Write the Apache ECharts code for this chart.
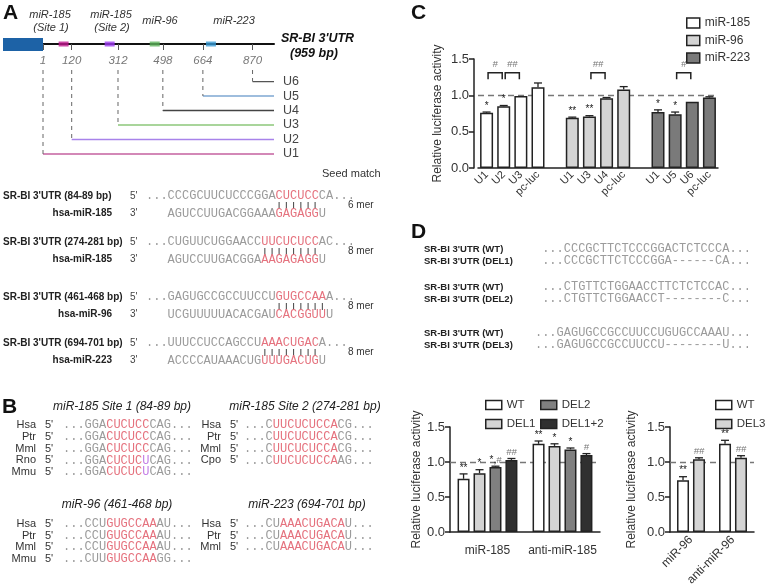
<!DOCTYPE html>
<html><head><meta charset="utf-8">
<script src="https://cdn.jsdelivr.net/npm/echarts@6/dist/echarts.min.js"></script>
<style>html,body{margin:0;padding:0;background:#fff}#c{width:768px;height:588px}</style>
</head><body><div id="c"></div>
<script>
// ================= DATA =================
// Panel A: construct map
const utrLengthBp = 959;
const cutSitesBp = [1, 120, 312, 498, 664, 870];
const constructNames = ['U1', 'U2', 'U3', 'U4', 'U5', 'U6'];
const constructStartBp = [1, 120, 312, 498, 664, 870];
const siteNames = ['miR-185 (Site 1)', 'miR-185 (Site 2)', 'miR-96', 'miR-223'];
const siteCenterBp = [86.5, 277.5, 464.5, 697.5];
const siteLabelLines = [['miR-185', '(Site 1)'], ['miR-185', '(Site 2)'], ['miR-96'], ['miR-223']];

// Panel A: seed matches ([..] = seed, coloured)
const seedUtrLabels = ["SR-BI 3'UTR (84-89 bp)", "SR-BI 3'UTR (274-281 bp)", "SR-BI 3'UTR (461-468 bp)", "SR-BI 3'UTR (694-701 bp)"];
const seedMirLabels = ['hsa-miR-185', 'hsa-miR-185', 'hsa-miR-96', 'hsa-miR-223'];
const seedUtrSeqs = ['...CCCGCUUCUCCCGGA[CUCUCC]CA...', '...CUGUUCUGGAACC[UUCUCUCC]AC...', '...GAGUGCCGCCUUCCU[GUGCCAA]A...', '...UUUCCUCCAGCCU[AAACUGAC]A...'];
const seedMirSeqs = ['AGUCCUUGACGGAAA[GAGAGG]U', 'AGUCCUUGACGGA[AAGAGAGG]U', 'UCGUUUUUACACGAU[CACGGUU]U', 'ACCCCAUAAACUG[UUUGACUG]U'];
const seedMers = ['6 mer', '8 mer', '8 mer', '8 mer'];

// Panel B: conservation ([..] seed, <..> mismatch)
const consTitles = ['miR-185 Site 1 (84-89 bp)', 'miR-185 Site 2 (274-281 bp)', 'miR-96 (461-468 bp)', 'miR-223 (694-701 bp)'];
const consSite1Species = ['Hsa', 'Ptr', 'Mml', 'Rno', 'Mmu'];
const consSite1Seqs = ['...GGA[CUCUCC]CAG...', '...GGA[CUCUCC]CAG...', '...GGA[CUCUCC]CAG...', '...GGA[CUCUC]<U>CAG...', '...GGA[CUCUC]<U>CAG...'];
const consSite2Species = ['Hsa', 'Ptr', 'Mml', 'Cpo'];
const consSite2Seqs = ['...C[UUCUCUCCA]CG...', '...C[UUCUCUCCA]CG...', '...C[UUCUCUCCA]CG...', '...C[UUCUCUCCA]AG...'];
const consMiR96Species = ['Hsa', 'Ptr', 'Mml', 'Mmu'];
const consMiR96Seqs = ['...CCU[GUGCCAA]AU...', '...CCU[GUGCCAA]AU...', '...CCU[GUGCCAA]AU...', '...CUU[GUGCCAA]GG...'];
const consMiR223Species = ['Hsa', 'Ptr', 'Mml'];
const consMiR223Seqs = ['...CU[AAACUGACA]U...', '...CU[AAACUGACA]U...', '...CU[AAACUGACA]U...'];

// Panel C: luciferase assay of deletion constructs
const cCategories = ['U1', 'U2', 'U3', 'pc-luc', '', 'U1', 'U3', 'U4', 'pc-luc', '', 'U1', 'U5', 'U6', 'pc-luc'];
const cSeriesNames = ['miR-185', 'miR-96', 'miR-223'];
const cMiR185 = [0.76, 0.85, 0.99, 1.11];
const cMiR185Err = [0.01, 0.01, 0.005, 0.06];
const cMiR185Sig = ['*', '*', '', ''];
const cMiR96 = [0.69, 0.71, 0.96, 1.08];
const cMiR96Err = [0.01, 0.01, 0.01, 0.04];
const cMiR96Sig = ['**', '**', '', ''];
const cMiR223 = [0.77, 0.74, 0.91, 0.97];
const cMiR223Err = [0.03, 0.03, 0.005, 0.01];
const cMiR223Sig = ['*', '*', '', ''];
const cBracketPairs = [[0, 1], [1, 2], [6, 7], [11, 12]];
const cBracketLabels = ['#', '##', '##', '#'];

// Panel D: deletion sequences
const delLabels = ["SR-BI 3'UTR (WT)", "SR-BI 3'UTR (DEL1)", "SR-BI 3'UTR (WT)", "SR-BI 3'UTR (DEL2)", "SR-BI 3'UTR (WT)", "SR-BI 3'UTR (DEL3)"];
const delSeqs = ['...CCCGCTTCTCCCGGACTCTCCCA...', '...CCCGCTTCTCCCGGA------CA...', '...CTGTTCTGGAACCTTCTCTCCAC...', '...CTGTTCTGGAACCT--------C...', '...GAGUGCCGCCUUCCUGUGCCAAAU...', '...GAGUGCCGCCUUCCU--------U...'];

// Panel D left
const dGroups = ['miR-185', 'anti-miR-185'];
const dSeriesNames = ['WT', 'DEL1', 'DEL2', 'DEL1+2'];
const dWT = [0.76, 1.26], dWTErr = [0.07, 0.04], dWTSig = ['**', '**'];
const dDEL1 = [0.84, 1.23], dDEL1Err = [0.05, 0.03], dDEL1Sig = ['*', '*'];
const dDEL2 = [0.93, 1.18], dDEL2Err = [0.01, 0.02], dDEL2Sig = ['*,#', '*'];
const dDEL12 = [1.03, 1.10], dDEL12Err = [0.02, 0.02], dDEL12Sig = ['##', '#'];

// Panel D right
const eGroups = ['miR-96', 'anti-miR-96'];
const eSeriesNames = ['WT', 'DEL3'];
const eWT = [0.74, 1.26], eWTErr = [0.05, 0.05], eWTSig = ['**', '**'];
const eDEL3 = [1.04, 1.06], eDEL3Err = [0.02, 0.03], eDEL3Sig = ['##', '##'];

// ================= STYLE / HELPERS =================
const SANS = "'Liberation Sans', Arial, Helvetica, sans-serif";
const MONO = "'Liberation Mono', 'DejaVu Sans Mono', monospace";
const CW = 7.2; // mono char width at 12px
const constructColors = ['#c4609f', '#a883ea', '#8cc77a', '#444444', '#7ea7d2', '#555555'];
const siteColors = ['#c0198f', '#9d3cf0', '#5db35a', '#3a9bd5'];
const cColors = ['#ffffff', '#d4d4d4', '#7a7a7a'];
const dColors = ['#ffffff', '#d4d4d4', '#808080', '#303030'];
const eColors = ['#ffffff', '#d4d4d4'];

function T(x, y, text, o) {
  o = o || {};
  const st = Object.assign({
    text: text, fill: '#222', fontFamily: SANS, fontSize: 11,
    textAlign: 'left', textVerticalAlign: 'middle'
  }, o);
  return { type: 'text', x: x, y: y, silent: true, z: 50, style: st };
}
const seqRich = {
  g: { fill: '#9b9b9b', fontFamily: MONO, fontSize: 12 },
  r: { fill: '#e5727e', fontFamily: MONO, fontSize: 12 },
  p: { fill: '#c27be6', fontFamily: MONO, fontSize: 12 }
};
function parseSeq(s) {
  const out = []; const re = /\[([^\]]*)\]|<([^>]*)>|([^\[<]+)/g; let m;
  while ((m = re.exec(s))) {
    if (m[1] !== undefined) out.push(['r', m[1]]);
    else if (m[2] !== undefined) out.push(['p', m[2]]);
    else out.push(['g', m[3]]);
  }
  return out;
}
function richSeq(s) { return parseSeq(s).map(p => '{' + p[0] + '|' + p[1] + '}').join(''); }
function seedIndex(s) { return s.indexOf('['); }
function seedLen(s) { return s.indexOf(']') - s.indexOf('[') - 1; }
function SEQ(x, y, s) { return T(x, y, richSeq(s), { rich: seqRich, fontFamily: MONO, fontSize: 12 }); }

const graphics = [];
// panel letters
graphics.push(T(3, 13, 'A', { fontSize: 21, fontWeight: 'bold', fill: '#111' }));
graphics.push(T(2, 407, 'B', { fontSize: 21, fontWeight: 'bold', fill: '#111' }));
graphics.push(T(411, 13, 'C', { fontSize: 21, fontWeight: 'bold', fill: '#111' }));
graphics.push(T(411, 232, 'D', { fontSize: 21, fontWeight: 'bold', fill: '#111' }));

// Panel A decorations
graphics.push({ type: 'rect', shape: { x: 3, y: 38, width: 40, height: 13 }, style: { fill: '#1d62a6' }, z: 40, silent: true });
const siteLabelX = [50, 111, 160, 234];
siteLabelLines.forEach((lines, i) => {
  if (lines.length === 2) {
    graphics.push(T(siteLabelX[i], 15, lines[0], { fontStyle: 'italic', textAlign: 'center', fill: '#333' }));
    graphics.push(T(siteLabelX[i] + 1, 28, lines[1], { fontStyle: 'italic', textAlign: 'center', fill: '#333' }));
  } else {
    graphics.push(T(siteLabelX[i], 21, lines[0], { fontStyle: 'italic', textAlign: 'center', fill: '#333' }));
  }
});
graphics.push(T(281, 39, "SR-BI 3'UTR", { fontSize: 12.5, fontWeight: 'bold', fontStyle: 'italic', fill: '#111' }));
graphics.push(T(290, 54, '(' + utrLengthBp + ' bp)', { fontSize: 12.5, fontWeight: 'bold', fontStyle: 'italic', fill: '#111' }));
graphics.push(T(322, 174, 'Seed match', { fontSize: 11, fill: '#333' }));

// seed rows
const seedRowY = [196, 242, 297, 343];
const seqX = 146;
seedUtrSeqs.forEach((s, i) => {
  const y = seedRowY[i];
  graphics.push(T(3, y, seedUtrLabels[i], { fontSize: 10, fontWeight: 'bold' }));
  graphics.push(T(130, y, "5'", { fontSize: 10, fill: '#444' }));
  graphics.push(SEQ(seqX, y, s));
  const off = seedIndex(s) - seedIndex(seedMirSeqs[i]);
  const barX = seqX + seedIndex(s) * CW;
  const bars = T(barX, y + 9, '|'.repeat(seedLen(s)), { fontFamily: MONO, fontSize: 12, fill: '#444' });
  bars.scaleY = 0.55;
  graphics.push(bars);
  graphics.push(T(348, y + 9.5, seedMers[i], { fontSize: 10, fill: '#333' }));
  graphics.push(T(112, y + 17.5, seedMirLabels[i], { fontSize: 10, fontWeight: 'bold', textAlign: 'right' }));
  graphics.push(T(130, y + 17.5, "3'", { fontSize: 10, fill: '#444' }));
  graphics.push(SEQ(seqX + off * CW, y + 17.5, seedMirSeqs[i]));
});

// Panel B blocks
function consBlock(titleX, titleY, title, speciesX, seqX0, rowY0, dy, species, seqs) {
  graphics.push(T(titleX, titleY, title, { fontSize: 12, fontStyle: 'italic', textAlign: 'center', fill: '#222' }));
  species.forEach((sp, i) => {
    const y = rowY0 + i * dy;
    graphics.push(T(speciesX, y, sp, { fontSize: 11, textAlign: 'right', fill: '#333' }));
    graphics.push(T(speciesX + 9, y, "5'", { fontSize: 11, fill: '#333' }));
    graphics.push(SEQ(seqX0, y, seqs[i]));
  });
}
consBlock(122, 407, consTitles[0], 36, 63, 425, 11.8, consSite1Species, consSite1Seqs);
consBlock(305, 407, consTitles[1], 221, 244, 425, 11.8, consSite2Species, consSite2Seqs);
consBlock(117, 505, consTitles[2], 36, 63, 524, 11.5, consMiR96Species, consMiR96Seqs);
consBlock(307, 505, consTitles[3], 221, 244, 524, 11.5, consMiR223Species, consMiR223Seqs);

// Panel D text
const delRowY = [249, 261, 287, 299, 333, 345];
delLabels.forEach((l, i) => {
  graphics.push(T(424, delRowY[i], l, { fontSize: 9.5, fontWeight: 'bold' }));
  graphics.push(T(751, delRowY[i], delSeqs[i], { fontFamily: MONO, fontSize: 12, fill: '#9b9b9b', textAlign: 'right' }));
});

// ================= SERIES BUILDERS =================
const starStyle = { fontFamily: SANS, fontSize: 10, fill: '#222' };
const hashStyle = { fontFamily: SANS, fontSize: 9.5, fontStyle: 'italic', fill: '#777' };
function sigRich(s) {
  return s.replace(/([*,]+)|(#+)/g, (m, a, b) => a ? '{s|' + a + '}' : '{h|' + b + '}');
}
function errorSeries(xi, yi, rows, sigs, offsets, capW) {
  return {
    type: 'custom', xAxisIndex: xi, yAxisIndex: yi, z: 6, silent: true,
    encode: { x: 0, y: 2 }, data: rows, clip: false,
    renderItem: function (params, api) {
      const c = api.value(0), si = api.value(1), v = api.value(2), e = api.value(3);
      const p0 = api.coord([c, v]), p1 = api.coord([c, v + e]);
      const x = p0[0] + offsets[si];
      const ch = [];
      if (e > 0.006) {
        ch.push({ type: 'line', shape: { x1: x, y1: p0[1], x2: x, y2: p1[1] }, style: { stroke: '#222', lineWidth: 1.3 } });
        ch.push({ type: 'line', shape: { x1: x - capW / 2, y1: p1[1], x2: x + capW / 2, y2: p1[1] }, style: { stroke: '#222', lineWidth: 1.3 } });
      }
      const s = sigs[params.dataIndex];
      if (s) ch.push({ type: 'text', x: x, y: p1[1] - 1, style: { text: sigRich(s), rich: { s: starStyle, h: hashStyle }, textAlign: 'center', textVerticalAlign: 'bottom', fontSize: 10 } });
      return { type: 'group', children: ch };
    }
  };
}
function barSeries(name, xi, yi, data, color, bw, gap, withLine) {
  const s = {
    type: 'bar', name: name, xAxisIndex: xi, yAxisIndex: yi, data: data, barWidth: bw, barGap: gap, z: 2,
    itemStyle: { color: color, borderColor: '#222', borderWidth: 1.5 }, silent: true
  };
  if (withLine) s.markLine = { silent: true, z: 1, symbol: 'none', label: { show: false }, animation: false,
    lineStyle: { type: [6, 4], color: '#777', width: 1.3 }, emphasis: { disabled: true }, data: [{ yAxis: 1 }] };
  return s;
}

const series = [];
// --- Panel A
series.push({ type: 'scatter', xAxisIndex: 0, yAxisIndex: 0, symbol: 'rect', symbolSize: [10, 5], clip: false, z: 5, silent: true,
  data: siteCenterBp.map((c, i) => ({ name: siteNames[i], value: [c, 0], itemStyle: { color: siteColors[i] } })) });
constructNames.forEach((n, i) => {
  series.push({ type: 'line', name: n, xAxisIndex: 1, yAxisIndex: 1, showSymbol: false, silent: true, clip: false,
    lineStyle: { color: constructColors[i], width: 1.4 }, data: [[constructStartBp[i], i + 1], [utrLengthBp, i + 1]] });
  series.push({ type: 'line', xAxisIndex: 1, yAxisIndex: 1, showSymbol: false, silent: true, clip: false,
    lineStyle: { color: '#666', width: 1, type: [4, 4] }, data: [[constructStartBp[i], 6.8], [constructStartBp[i], i + 1]] });
});

// --- Panel C
const cGroupStarts = [];
cCategories.forEach((c, i) => { if (c !== '' && (i === 0 || cCategories[i - 1] === '')) cGroupStarts.push(i); });
const cVals = [cMiR185, cMiR96, cMiR223], cErrs = [cMiR185Err, cMiR96Err, cMiR223Err], cSigs = [cMiR185Sig, cMiR96Sig, cMiR223Sig];
cVals.forEach((vals, g) => {
  const d = cCategories.map(() => '-');
  vals.forEach((v, j) => { d[cGroupStarts[g] + j] = v; });
  series.push(barSeries(cSeriesNames[g], 2, 2, d, cColors[g], 13, '-100%', g === 0));
});
const cRows = [], cRowSig = [];
cVals.forEach((vals, g) => vals.forEach((v, j) => { cRows.push([cGroupStarts[g] + j, 0, v, cErrs[g][j]]); cRowSig.push(cSigs[g][j]); }));
series.push(errorSeries(2, 2, cRows, cRowSig, [0], 8));
const bracketLevel = 1.31, bracketDrop = 0.09;
series.push({
  type: 'custom', xAxisIndex: 2, yAxisIndex: 2, z: 6, silent: true, encode: { x: 0, y: 2 }, clip: false,
  data: cBracketPairs.map(p => [p[0], p[1], bracketLevel]),
  renderItem: function (params, api) {
    const a = api.coord([api.value(0), api.value(2)]), b = api.coord([api.value(1), api.value(2)]);
    const lo = api.coord([api.value(0), api.value(2) - bracketDrop])[1];
    const x1 = a[0] + 1.5, x2 = b[0] - 1.5, y = a[1];
    return { type: 'group', children: [
      { type: 'polyline', shape: { points: [[x1, lo], [x1, y], [x2, y], [x2, lo]] }, style: { stroke: '#222', lineWidth: 1.5, fill: null } },
      { type: 'text', x: (x1 + x2) / 2, y: y - 3, style: { text: cBracketLabels[params.dataIndex], fontFamily: SANS, fontSize: 9.5, fontStyle: 'italic', fill: '#777', textAlign: 'center', textVerticalAlign: 'bottom' } }
    ] };
  }
});

// --- Panel D left
const dVals = [dWT, dDEL1, dDEL2, dDEL12], dErrs = [dWTErr, dDEL1Err, dDEL2Err, dDEL12Err], dSigs = [dWTSig, dDEL1Sig, dDEL2Sig, dDEL12Sig];
const dBW = 12, dGap = 0.33;
dVals.forEach((v, i) => series.push(barSeries(dSeriesNames[i], 3, 3, v, dColors[i], dBW, (dGap * 100) + '%', i === 0)));
const dOff = dVals.map((_, i) => (i - (dVals.length - 1) / 2) * dBW * (1 + dGap));
const dRows = [], dRowSig = [];
dVals.forEach((vals, si) => vals.forEach((v, c) => { dRows.push([c, si, v, dErrs[si][c]]); dRowSig.push(dSigs[si][c]); }));
series.push(errorSeries(3, 3, dRows, dRowSig, dOff, 8));

// --- Panel D right
const eVals = [eWT, eDEL3], eErrs = [eWTErr, eDEL3Err], eSigs = [eWTSig, eDEL3Sig];
eVals.forEach((v, i) => series.push(barSeries(eSeriesNames[i], 4, 4, v, eColors[i], dBW, (dGap * 100) + '%', i === 0)));
const eOff = eVals.map((_, i) => (i - (eVals.length - 1) / 2) * dBW * (1 + dGap));
const eRows = [], eRowSig = [];
eVals.forEach((vals, si) => vals.forEach((v, c) => { eRows.push([c, si, v, eErrs[si][c]]); eRowSig.push(eSigs[si][c]); }));
series.push(errorSeries(4, 4, eRows, eRowSig, eOff, 8));

// ================= AXES =================
const axisBlack = { lineStyle: { color: '#222', width: 1.5 } };
const ylab = { fontFamily: SANS, fontSize: 13, color: '#333', margin: 5, formatter: v => v.toFixed(1) };
function lucY(grid, gap) {
  return { type: 'value', gridIndex: grid, min: 0, max: 1.5, interval: 0.5, axisLine: Object.assign({ show: true }, axisBlack),
    axisTick: { show: true, length: 5, lineStyle: { color: '#222', width: 1.5 } }, splitLine: { show: false }, axisLabel: ylab,
    name: 'Relative luciferase activity', nameLocation: 'middle', nameRotate: 90, nameGap: gap,
    nameTextStyle: { fontFamily: SANS, fontSize: 12, color: '#333' } };
}

const option = {
  animation: false,
  backgroundColor: '#ffffff',
  textStyle: { fontFamily: SANS },
  grid: [
    { left: 43, top: 32, width: 231, height: 12, outerBoundsMode: 'none' },
    { left: 43, top: 70, width: 231, height: 84, outerBoundsMode: 'none' },
    { left: 478, top: 59, width: 240, height: 109, outerBoundsMode: 'none' },
    { left: 450, top: 427, width: 150, height: 105, outerBoundsMode: 'none' },
    { left: 670, top: 427, width: 84, height: 105, outerBoundsMode: 'none' }
  ],
  xAxis: [
    { type: 'value', gridIndex: 0, min: 1, max: utrLengthBp,
      axisLine: { show: true, lineStyle: { color: '#111', width: 2 } },
      axisTick: { show: true, length: 6, customValues: cutSitesBp, lineStyle: { color: '#555', width: 1 } },
      axisLabel: { customValues: cutSitesBp, margin: 11, fontFamily: SANS, fontSize: 11.5, fontStyle: 'italic', color: '#777' },
      splitLine: { show: false } },
    { type: 'value', gridIndex: 1, min: 1, max: utrLengthBp, show: false },
    { type: 'category', gridIndex: 2, data: cCategories, axisLine: Object.assign({ show: true }, axisBlack), axisTick: { show: false },
      axisLabel: { rotate: 45, margin: 5, interval: 0, fontFamily: SANS, fontSize: 11, color: '#333' } },
    { type: 'category', gridIndex: 3, data: dGroups, axisLine: Object.assign({ show: true }, axisBlack), axisTick: { show: false },
      axisLabel: { margin: 13, interval: 0, fontFamily: SANS, fontSize: 12, color: '#333' } },
    { type: 'category', gridIndex: 4, data: eGroups, axisLine: Object.assign({ show: true }, axisBlack), axisTick: { show: false },
      axisLabel: { rotate: 45, margin: 6, interval: 0, fontFamily: SANS, fontSize: 12, color: '#333' } }
  ],
  yAxis: [
    { type: 'value', gridIndex: 0, min: 0, max: 1, show: false },
    { type: 'value', gridIndex: 1, min: 1, max: 6.8, interval: 1, position: 'right',
      axisLine: { show: false }, axisTick: { show: false }, splitLine: { show: false },
      axisLabel: { margin: 9, fontFamily: SANS, fontSize: 12.5, color: '#444', showMaxLabel: false,
        formatter: v => (Number.isInteger(v) && constructNames[v - 1]) ? constructNames[v - 1] : '' } },
    Object.assign(lucY(2, 30), { offset: 4 }),
    lucY(3, 26),
    lucY(4, 32)
  ],
  legend: [
    { data: cSeriesNames, orient: 'vertical', left: 681, top: 12, itemWidth: 13, itemHeight: 10, itemGap: 5.5, icon: 'rect',
      itemStyle: { borderColor: '#222', borderWidth: 1.5 }, textStyle: { fontFamily: SANS, fontSize: 12, color: '#333' }, selectedMode: false },
    { data: ['WT', 'DEL1'], orient: 'vertical', left: 480, top: 394, itemWidth: 16, itemHeight: 9, itemGap: 7, icon: 'rect',
      itemStyle: { borderColor: '#222', borderWidth: 1.5 }, textStyle: { fontFamily: SANS, fontSize: 11.5, color: '#333' }, selectedMode: false },
    { data: ['DEL2', 'DEL1+2'], orient: 'vertical', left: 535, top: 394, itemWidth: 16, itemHeight: 9, itemGap: 7, icon: 'rect',
      itemStyle: { borderColor: '#222', borderWidth: 1.5 }, textStyle: { fontFamily: SANS, fontSize: 11.5, color: '#333' }, selectedMode: false },
    { data: ['WT', 'DEL3'], orient: 'vertical', left: 710, top: 394, itemWidth: 16, itemHeight: 9, itemGap: 7, icon: 'rect',
      itemStyle: { borderColor: '#222', borderWidth: 1.5 }, textStyle: { fontFamily: SANS, fontSize: 11.5, color: '#333' }, selectedMode: false }
  ],
  graphic: { elements: graphics },
  series: series
};

const chart = echarts.init(document.getElementById('c'), null, { renderer: 'canvas', width: 768, height: 588 });
chart.setOption(option);
</script>
</body></html>
